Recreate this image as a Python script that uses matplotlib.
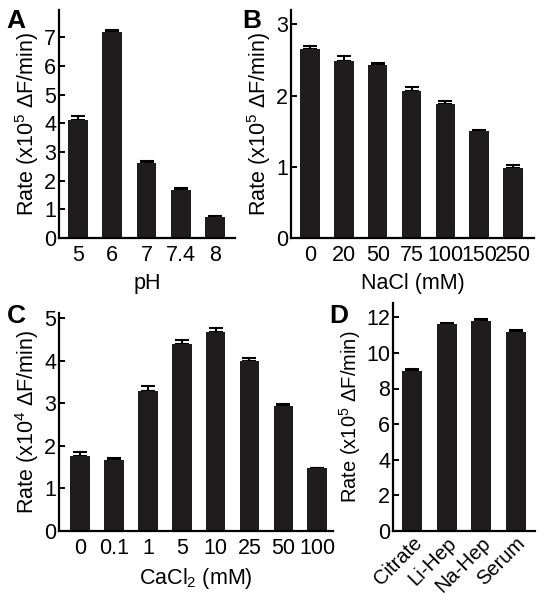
import numpy as np
import matplotlib.pyplot as plt

plt.rcParams['font.family'] = ['Liberation Sans', 'DejaVu Sans']
plt.rcParams['mathtext.default'] = 'regular'

# panel A: pH
ph_labels = ['5', '6', '7', '7.4', '8']
ph_rate = [4.1, 7.18, 2.6, 1.68, 0.72]
ph_err = [0.17, 0.08, 0.07, 0.06, 0.06]

# panel B: NaCl
nacl_labels = ['0', '20', '50', '75', '100', '150', '250']
nacl_rate = [2.65, 2.48, 2.43, 2.06, 1.88, 1.5, 0.98]
nacl_err = [0.04, 0.07, 0.03, 0.06, 0.04, 0.02, 0.04]

# panel C: CaCl2
cacl_labels = ['0', '0.1', '1', '5', '10', '25', '50', '100']
cacl_rate = [1.77, 1.67, 3.3, 4.4, 4.67, 4.0, 2.95, 1.47]
cacl_err = [0.08, 0.05, 0.1, 0.08, 0.1, 0.06, 0.03, 0.02]

# panel D: anticoagulant
tube_labels = ['Citrate', 'Li-Hep', 'Na-Hep', 'Serum']
tube_rate = [9.0, 11.6, 11.8, 11.2]
tube_err = [0.1, 0.08, 0.08, 0.08]

bar_col = '#1e1c1d'
fs = 15.5

fig = plt.figure(figsize=(5.44, 6), dpi=100)


def panel(rect, labels, vals, errs, ylim, yticks, xlabel, ylabel, xlim, rot=0):
    ax = fig.add_axes(rect)
    x = np.arange(len(labels))
    ax.bar(x, vals, width=0.58, color=bar_col, zorder=2)
    ax.errorbar(x, vals, yerr=[np.zeros(len(errs)), errs], fmt='none',
                ecolor='black', elinewidth=1.5, capsize=5, capthick=1.5, zorder=1)
    ax.set_xlim(*xlim)
    ax.set_ylim(*ylim)
    ax.set_yticks(yticks)
    ax.set_xticks(x)
    for s in ['top', 'right']:
        ax.spines[s].set_visible(False)
    for s in ['left', 'bottom']:
        ax.spines[s].set_linewidth(1.6)
    ax.tick_params(axis='y', direction='in', length=4, width=1.4, pad=2, labelsize=fs)
    if rot:
        ax.set_xticklabels(labels, rotation=rot, ha='right', rotation_mode='anchor')
        ax.tick_params(axis='x', length=0, pad=2, labelsize=14.5)
    else:
        ax.set_xticklabels(labels)
        ax.tick_params(axis='x', length=0, pad=5, labelsize=fs)
    if xlabel:
        ax.set_xlabel(xlabel, fontsize=fs, labelpad=5)
    ax.set_ylabel(ylabel, fontsize=fs if not rot else 14.5, labelpad=2)
    return ax


panel([0.1085, 0.6033, 0.3235, 0.38], ph_labels, ph_rate, ph_err,
      (0, 7.95), range(0, 8), 'pH', 'Rate (x10$^5$ ΔF/min)', (-0.55, 4.58))
panel([0.535, 0.6033, 0.4467, 0.38], nacl_labels, nacl_rate, nacl_err,
      (0, 3.2), range(0, 4), 'NaCl (mM)', 'Rate (x10$^5$ ΔF/min)', (-0.56, 6.62))
panel([0.1085, 0.115, 0.504, 0.363], cacl_labels, cacl_rate, cacl_err,
      (0, 5.12), range(0, 6), 'CaCl$_2$ (mM)', 'Rate (x10$^4$ ΔF/min)', (-0.62, 7.47))
panel([0.7224, 0.115, 0.261, 0.38], tube_labels, tube_rate, tube_err,
      (0, 12.8), range(0, 13, 2), None, 'Rate (x10$^5$ ΔF/min)', (-0.55, 3.55), rot=45)

for lab, x, y in [('A', 0.012, 0.985), ('B', 0.445, 0.985), ('C', 0.012, 0.493), ('D', 0.605, 0.493)]:
    fig.text(x, y, lab, fontsize=19, fontweight='bold', va='top', ha='left')

fig.savefig('out.png', dpi=100)
